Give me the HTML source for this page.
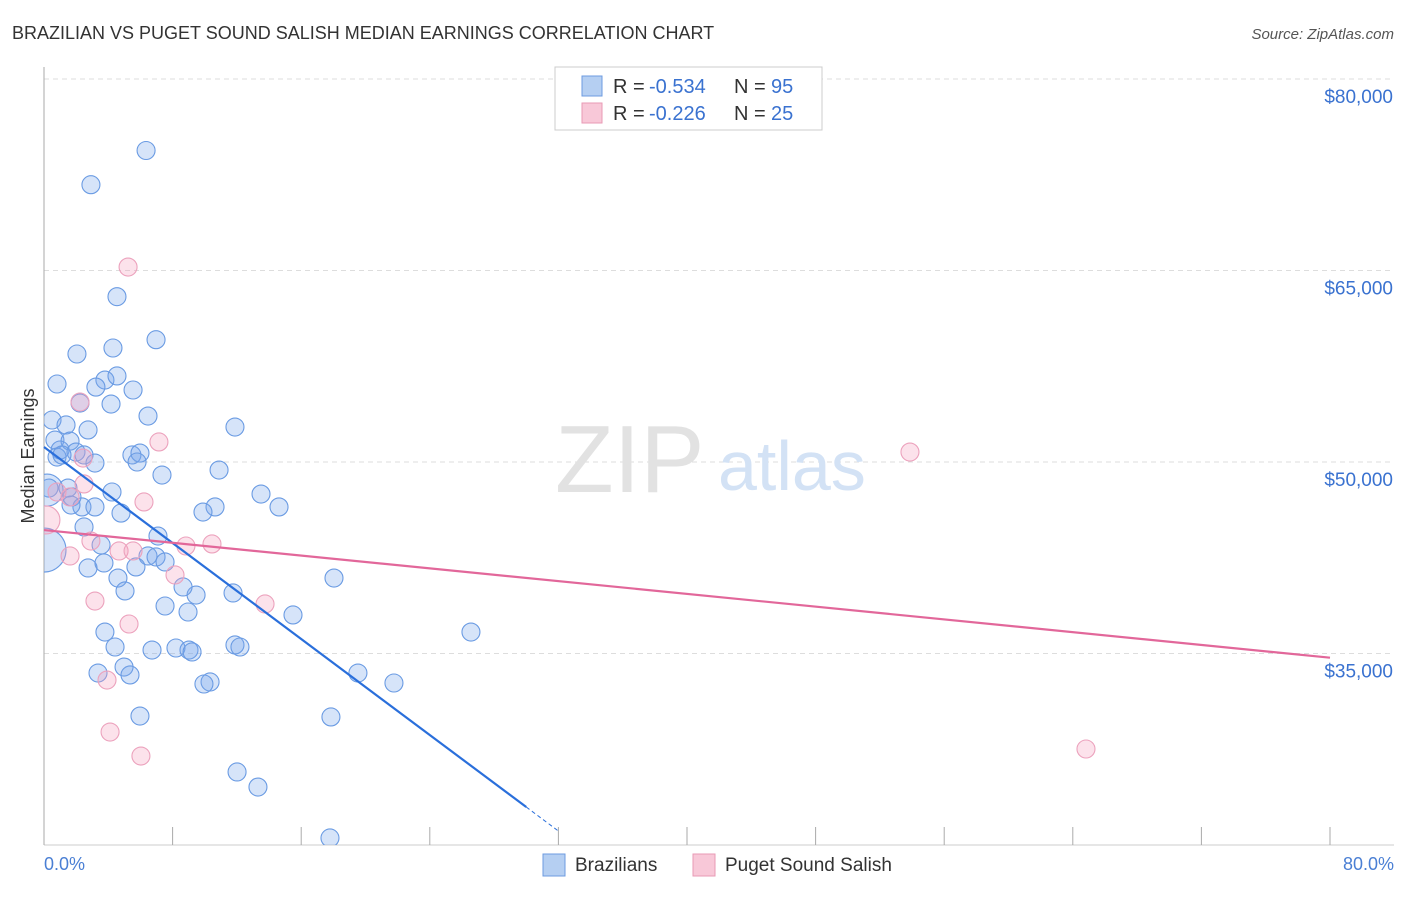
<!DOCTYPE html>
<html><head><meta charset="utf-8"><style>
body{margin:0;background:#fff;font-family:"Liberation Sans",sans-serif;}
svg text{font-family:"Liberation Sans",sans-serif;}
</style></head><body>
<svg width="1406" height="892" viewBox="0 0 1406 892" xmlns="http://www.w3.org/2000/svg">
<defs><clipPath id="plotclip"><rect x="44" y="60" width="1360" height="785"/></clipPath></defs>
<text x="12" y="39" font-size="18" fill="#333">BRAZILIAN VS PUGET SOUND SALISH MEDIAN EARNINGS CORRELATION CHART</text>
<text x="1394" y="39" font-size="15" fill="#555" font-style="italic" text-anchor="end">Source: ZipAtlas.com</text>
<g id="grid"></g>
<g id="axes"></g>
<text x="555" y="492" font-size="96" fill="#e2e2e2" font-family="Liberation Serif">ZIP</text>
<text x="718" y="490" font-size="70" fill="#d3e2f5">atlas</text>
<g id="pts" clip-path="url(#plotclip)"></g>
<g id="lines"></g>
<text transform="translate(34,456) rotate(-90)" font-size="18" fill="#333" text-anchor="middle">Median Earnings</text>
<text x="44" y="870" font-size="18" fill="#4a7fd4">0.0%</text>
<text x="1394" y="870" font-size="18" fill="#4a7fd4" text-anchor="end">80.0%</text>
<g>
<rect x="555" y="67" width="267" height="63" fill="#fff" stroke="#ccc"/>
<rect x="582" y="76" width="20" height="20" fill="#b5cff2" stroke="#6d9be0"/>
<rect x="582" y="103" width="20" height="20" fill="#f8c8d8" stroke="#e89ab5"/>
<text x="613" y="93" font-size="20" fill="#333">R =</text><text x="649" y="93" font-size="20" fill="#3a72d0">-0.534</text>
<text x="734" y="93" font-size="20" fill="#333">N =</text><text x="771" y="93" font-size="20" fill="#3a72d0">95</text>
<text x="613" y="120" font-size="20" fill="#333">R =</text><text x="649" y="120" font-size="20" fill="#3a72d0">-0.226</text>
<text x="734" y="120" font-size="20" fill="#333">N =</text><text x="771" y="120" font-size="20" fill="#3a72d0">25</text>
</g>
<g>
<rect x="543" y="854" width="22" height="22" fill="#b5cff2" stroke="#6d9be0"/>
<text x="575" y="871" font-size="19" fill="#333">Brazilians</text>
<rect x="693" y="854" width="22" height="22" fill="#f8c8d8" stroke="#e89ab5"/>
<text x="725" y="871" font-size="19" fill="#333">Puget Sound Salish</text>
</g>
</svg>
<script>
const yTicks=[35000,50000,65000,80000];
const yTickLabels=["$35,000","$50,000","$65,000","$80,000"];
const blueX=[6.35,2.92,4.54,6.97,2.05,4.29,0.81,3.79,4.54,3.23,5.54,4.17,6.47,2.24,0.50,1.37,2.74,11.88,0.68,1.62,1.00,1.99,0.81,1.12,2.49,3.17,5.47,5.97,5.79,7.34,10.89,0.31,1.49,4.23,1.74,2.36,3.17,4.79,1.68,13.50,14.62,10.64,9.89,7.09,3.55,2.49,6.47,6.97,7.53,5.72,2.74,3.73,4.60,11.76,18.04,5.04,7.53,8.96,9.46,8.65,15.49,26.56,3.79,4.42,6.72,8.21,9.02,9.21,11.88,12.19,4.98,5.35,3.36,10.33,9.95,19.53,21.77,5.97,17.85,12.01,13.31,17.79,0.19,0.0];
const blueY=[74400,71720,62950,59580,58460,58930,56110,56420,56740,55870,55640,54540,53600,54620,53290,52900,52510,52740,51720,51640,50940,50780,50390,50550,50550,49920,50550,50700,50000,48980,49370,47960,47960,47650,47260,46480,46480,46000,46630,47490,46480,46480,46080,44200,43500,44910,42640,42560,42170,41780,41700,42090,40910,39740,40910,39900,38720,38250,39580,40210,38020,36680,36680,35510,35270,35430,35270,35120,35670,35510,33940,33320,33470,32770,32610,33470,32690,30100,30030,25720,24540,20550,47800,43100];
const blueSize=[];for(let i=0;i<blueX.length;i++)blueSize.push(i==blueX.length-2?16:(i==blueX.length-1?22:9));
const pinkX=[5.23,2.24,7.15,53.87,2.43,2.49,0.81,6.22,1.62,0.12,2.92,4.67,5.54,8.83,10.45,1.62,8.15,13.75,3.17,5.29,3.92,4.11,6.03,64.82];
const pinkY=[65270,54700,51570,50780,50310,48280,47650,46870,47260,45460,43810,43030,43030,43420,43580,42640,41150,38880,39110,37310,32920,28850,26970,27520];
const blueTrend=[51175,-940];
const pinkTrend=[44670,-125];
const NS="http://www.w3.org/2000/svg";
const X=p=>44+p*(1286/80);
const Y=v=>462-(v-50000)*191.5/15000;
function mk(t,a,p){const e=document.createElementNS(NS,t);for(const k in a)e.setAttribute(k,a[k]);p.appendChild(e);return e;}
const grid=document.getElementById('grid'),axes=document.getElementById('axes');
yTicks.forEach((v,i)=>{
 const l=mk('line',{x1:44,x2:1394,y1:Y(v),y2:Y(v),stroke:'#ddd','stroke-dasharray':'5,4'},grid);
 
 
 const t=mk('text',{x:1393,y:Y(v)+24,'font-size':19,fill:'#3a72d0','text-anchor':'end'},grid);
 t.textContent=yTickLabels[i];
 
 
});
mk('line',{x1:44,x2:44,y1:67,y2:845,stroke:'#aaa'},axes);
mk('line',{x1:44,x2:1394,y1:845,y2:845,stroke:'#ccc'},axes);
for(let i=0;i<=10;i++){const tk=mk('line',{x1:X(i*8),x2:X(i*8),y1:827,y2:845,stroke:'#aaa'},axes);
 
 }
const pts=document.getElementById('pts');
blueX.forEach((x,i)=>{const c=mk('circle',{cx:X(x),cy:Y(blueY[i]),r:blueSize[i],fill:'rgba(120,165,235,0.3)',stroke:'#6a9be3','stroke-width':1.1},pts);
 
 });
pinkX.forEach((x,i)=>{const c=mk('circle',{cx:X(x),cy:Y(pinkY[i]),r:i==9?14:9,fill:'rgba(245,160,190,0.3)',stroke:'#eca2bd','stroke-width':1.1},pts);
 
 });
const lines=document.getElementById('lines');
const bt=v=>blueTrend[0]+blueTrend[1]*v, pt=v=>pinkTrend[0]+pinkTrend[1]*v;
const bl=mk('line',{x1:X(0),y1:Y(bt(0)),x2:X(30),y2:Y(bt(30)),stroke:'#2a6fdb','stroke-width':2.2},lines);


const bd=mk('line',{x1:X(30),y1:Y(bt(30)),x2:X(32),y2:Y(bt(32)),stroke:'#2a6fdb','stroke-width':1,'stroke-dasharray':'4,3'},lines);


const pl=mk('line',{x1:X(0),y1:Y(pt(0)),x2:X(80),y2:Y(pt(80)),stroke:'#e2679a','stroke-width':2.2},lines);


</script>
</body></html>
